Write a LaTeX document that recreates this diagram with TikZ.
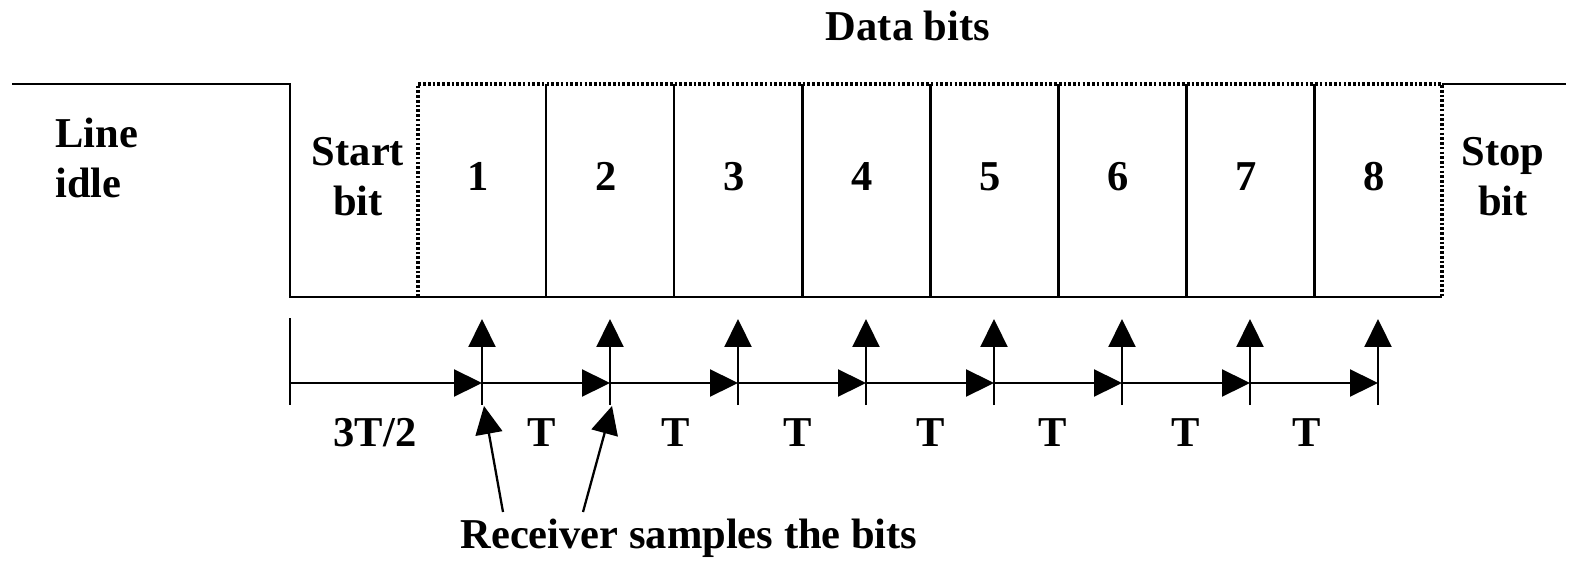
\documentclass[tikz,border=0pt]{standalone}
\usepackage{fontspec}
\setmainfont{Liberation Serif}
\usetikzlibrary{arrows.meta}
\begin{document}
\begin{tikzpicture}[x=0.02cm,y=-0.02cm,
  sig/.style={line width=1.7pt},
  dots/.style={line width=1.8pt, dash pattern=on 1.5pt off 1.2pt},
  arr/.style={line width=1.3pt, -{Triangle[length=0.56cm,width=0.54cm]}},
  lbl/.style={font=\bfseries\fontsize{24.2}{28.5}\selectfont, inner sep=0pt},
  ]
\useasboundingbox (0,0) rectangle (1573,561);
% waveform
\coordinate (w0) at (12,84);
\coordinate (w1) at (290,84);
\coordinate (w2) at (290,297);
\coordinate (w3) at (1442,297);
\coordinate (w4) at (1442,84);
\coordinate (w5) at (1566,84);
\coordinate (d0) at (418,84);
\coordinate (d0b) at (418,297);
\draw[dots] (d0b) -- (d0) -- (w4) -- (w3);
\draw[sig] (w0) -- (w1) -- (w2) -- (w3);
\draw[sig] (w4) -- (w5);
\foreach \k in {1,...,7}{
  \coordinate (bt\k) at ({418+128*\k},84);
  \coordinate (bb\k) at ({418+128*\k},297);
  \draw[sig] (bt\k) -- (bb\k);
}
% bit labels
\foreach \k in {1,...,8}{
  \node[lbl, anchor=base] (n\k) at ({350+128*\k},190) {\k};
}
\node[lbl, anchor=base] (data) at (908,40) {Data bits};
\node[lbl, anchor=north west, align=left] (idle) at (55,118) {Line\\idle};
\node[lbl, anchor=north, align=center] (start) at (358,137) {Start\\bit};
\node[lbl, anchor=north, align=center] (stop) at (1503,137) {Stop\\bit};
% timeline
\coordinate (t0) at (290,383);
\coordinate (k0a) at (290,318);
\coordinate (k0b) at (290,405);
\draw[line width=1.3pt] (k0a) -- (k0b);
\foreach \i [evaluate=\i as \p using int(\i-1)] in {1,...,8}{
  \coordinate (t\i) at ({482+128*(\i-1)},383);
  \coordinate (vt\i) at ({482+128*(\i-1)},319);
  \coordinate (vb\i) at ({482+128*(\i-1)},405);
  \draw[arr] (t\p) -- (t\i);
  \draw[arr] (vb\i) -- (vt\i);
}
% interval labels
\node[lbl, anchor=base] (l0) at (375,446) {3T/2};
\foreach \x [count=\j] in {542,676,798,931,1053,1186,1307}{
  \node[lbl, anchor=base] (l\j) at (\x,446) {T};
}
% receiver pointers
\node[lbl, anchor=base] (rx) at (689,548) {Receiver samples the bits};
\coordinate (p1) at (503,512);
\coordinate (q1) at (484,406);
\coordinate (p2) at (583,512);
\coordinate (q2) at (612,406);
\draw[arr] (p1) -- (q1);
\draw[arr] (p2) -- (q2);
\end{tikzpicture}
\end{document}
